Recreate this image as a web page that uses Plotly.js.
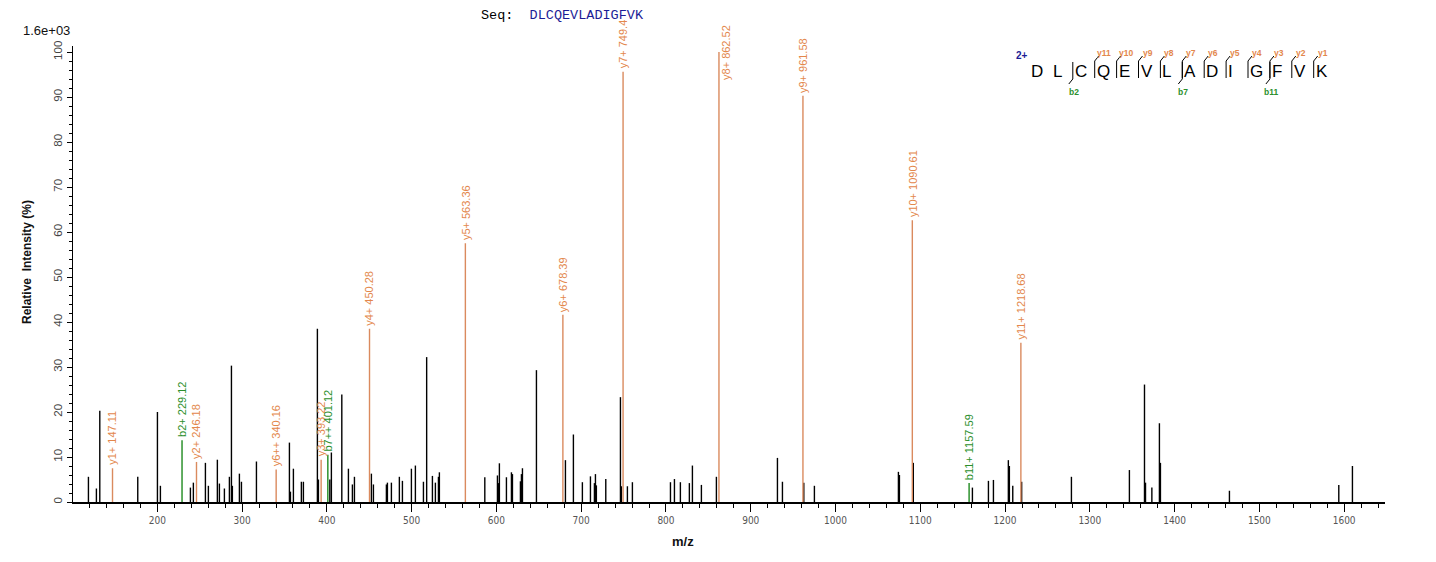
<!DOCTYPE html>
<html><head><meta charset="utf-8">
<script src="https://cdn.plot.ly/plotly-3.0.1.min.js"></script>
<style>html,body{margin:0;padding:0;background:#fff}</style>
</head><body><div id="chart" style="width:1436px;height:562px"></div>
<script>
// ---------------- data ----------------
const sequence = "DLCQEVLADIGFVK";
const precursorCharge = "2+";
const maxIntensityLabel = "1.6e+03";

const otherMz = [118.7,128.1,132.1,176.9,200.1,203.6,239.0,242.5,256.7,260.2,270.8,273.2,279.1,285.0,287.4,288.5,296.8,299.2,316.9,355.8,357.0,360.5,369.9,372.3,388.8,390.0,403.5,405.3,417.6,425.4,430.1,432.5,452.5,454.9,470.2,471.4,476.1,485.5,489.1,499.7,504.4,513.9,517.7,524.5,528.0,531.6,532.7,586.3,601.2,602.3,603.5,611.8,617.7,618.9,628.3,629.5,630.7,647.2,681.4,690.8,701.4,710.9,715.6,716.8,717.9,729.0,746.3,747.4,754.5,760.4,805.3,810.0,817.0,827.6,831.2,841.8,859.5,931.5,937.4,962.6,975.1,1074.2,1075.4,1091.8,1161.5,1180.4,1186.3,1203.9,1205.1,1209.1,1219.6,1278.3,1346.7,1364.5,1365.7,1373.2,1382.1,1383.3,1464.7,1593.7,1609.8];
const otherInt = [5.6,3.0,20.3,5.6,20.0,3.6,3.2,4.3,8.7,3.6,9.4,4.1,3.0,5.6,30.3,3.6,6.3,4.5,9.0,13.2,2.3,7.4,4.5,4.5,38.5,5.0,5.0,11.0,23.9,7.4,3.9,5.6,6.3,3.9,3.9,4.3,4.3,5.6,4.7,7.4,8.1,4.5,32.2,5.8,4.3,5.6,6.6,5.5,5.9,4.2,8.6,5.5,6.6,6.2,4.6,6.2,7.5,29.3,9.3,15.0,4.4,5.7,4.2,6.2,3.7,5.1,23.3,3.5,3.5,4.4,4.4,5.1,4.4,4.2,8.1,3.8,5.6,9.8,4.5,4.3,3.6,6.7,6.0,8.7,3.2,4.7,4.9,9.3,8.0,3.6,4.5,5.6,7.1,26.1,4.3,3.2,17.5,8.7,2.5,3.8,8.0];

const yIonMz = [147.11,246.18,340.16,393.22,450.28,563.36,678.39,749.4,862.52,961.58,1090.61,1218.68];
const yIonInt = [7.5,8.9,7.2,9.4,38.5,57.5,41.6,95.6,100,90.3,62.6,35.4];
const yIonLabels = ["y1+ 147.11","y2+ 246.18","y6++ 340.16","y3+ 393.22","y4+ 450.28","y5+ 563.36","y6+ 678.39","y7+ 749.4","y8+ 862.52","y9+ 961.58","y10+ 1090.61","y11+ 1218.68"];

const bIonMz = [229.12,401.12,1157.59];
const bIonInt = [13.7,10.5,4.2];
const bIonLabels = ["b2+ 229.12","b7++ 401.12","b11+ 1157.59"];

const yIonsMatched = [1,2,3,4,5,6,7,8,9,10,11];
const bIonsMatched = [2,7,11];

const xTickVals = [200,300,400,500,600,700,800,900,1000,1100,1200,1300,1400,1500,1600];

// ---------------- styles ----------------
const W = 1436, H = 562;
const M = {l:73, r:51, t:46, b:60};
const ORANGE_LINE = "#DA8A5E", ORANGE_TEXT = "#E3874C";
const GREEN_LINE = "#1F8A1F", GREEN_TEXT = "#2C8F2C";
const NAVY = "#1C1C96";

function px2x(px){ return (px - M.l) / (W - M.l - M.r); }
function py2y(py){ return (H - M.b - py) / (H - M.t - M.b); }

function sticks(mz, it){
  const x = [], y = [];
  mz.forEach((m, i) => { x.push(m, m, null); y.push(0, it[i], null); });
  return {x, y};
}

const sb = sticks(otherMz, otherInt);
const sy = sticks(yIonMz, yIonInt);
const sbi = sticks(bIonMz, bIonInt);

const traces = [
  {type:"scatter", mode:"lines", x:sb.x, y:sb.y, line:{color:"#000", width:1.4}, hoverinfo:"skip", connectgaps:false},
  {type:"scatter", mode:"lines", x:sy.x, y:sy.y, line:{color:ORANGE_LINE, width:1.4}, hoverinfo:"skip", connectgaps:false},
  {type:"scatter", mode:"lines", x:sbi.x, y:sbi.y, line:{color:GREEN_LINE, width:1.4}, hoverinfo:"skip", connectgaps:false}
];

const annotations = [];
function ionLabel(mz, it, txt, color){
  const high = it > 97;
  annotations.push({
    x: mz, y: it, xref:"x", yref:"y", text: txt, textangle:-90, showarrow:false,
    xanchor:"center", yanchor: high ? "middle" : "bottom", xshift: high ? 7 : 0, yshift: high ? 0 : 1,
    font:{family:"Arial, Liberation Sans, sans-serif", size:11, color}
  });
}
yIonMz.forEach((m,i)=>ionLabel(m, yIonInt[i], yIonLabels[i], ORANGE_TEXT));
bIonMz.forEach((m,i)=>ionLabel(m, bIonInt[i], bIonLabels[i], GREEN_TEXT));

// max intensity label
annotations.push({xref:"paper", yref:"paper", x:px2x(21), y:py2y(31), xanchor:"left", yanchor:"middle",
  text:maxIntensityLabel, showarrow:false, font:{family:"Arial, Liberation Sans, sans-serif", size:13, color:"#111"}});

// axis titles
annotations.push({xref:"paper", yref:"paper", x:px2x(27), y:py2y(262), xanchor:"center", yanchor:"middle",
  text:"<b>Relative  Intensity (%)</b>", textangle:-90, showarrow:false,
  font:{family:"Arial, Liberation Sans, sans-serif", size:12, color:"#111"}});
annotations.push({xref:"paper", yref:"paper", x:px2x(683), y:py2y(541), xanchor:"center", yanchor:"middle",
  text:"<b>m/z</b>", showarrow:false, font:{family:"Arial, Liberation Sans, sans-serif", size:13, color:"#111"}});

// fragment diagram
const shapes = [];
const fragLeft0 = 1031, fragStep = 21.9, fragPy = 72;
const letterLeft = i => fragLeft0 + i * fragStep;
sequence.split("").forEach((ch, i) => {
  annotations.push({xref:"paper", yref:"paper", x:px2x(letterLeft(i) - 2), y:py2y(fragPy), xanchor:"left", yanchor:"middle",
    text:ch, showarrow:false, font:{family:"Arial, Liberation Sans, sans-serif", size:17, color:"#000"}});
});
annotations.push({xref:"paper", yref:"paper", x:px2x(1022), y:py2y(55), xanchor:"center", yanchor:"middle",
  text:"<b>" + precursorCharge + "</b>", showarrow:false, font:{family:"Arial, Liberation Sans, sans-serif", size:10, color:NAVY}});

function seg(x0, y0, x1, y1, color){
  shapes.push({type:"line", xref:"paper", yref:"paper", x0:px2x(x0), y0:py2y(y0), x1:px2x(x1), y1:py2y(y1),
    line:{color, width:1}});
}
yIonsMatched.forEach(n => {
  const bx = letterLeft(sequence.length - n) - 2;
  seg(bx, 61, bx, 78, "#000");
  seg(bx, 61, bx + 4, 56, "#000");
  annotations.push({xref:"paper", yref:"paper", x:px2x(bx + 9), y:py2y(53), xanchor:"center", yanchor:"middle",
    text:"<b>y" + n + "</b>", showarrow:false, font:{family:"Arial, Liberation Sans, sans-serif", size:8.5, color:ORANGE_TEXT}});
});
bIonsMatched.forEach(n => {
  const bx = letterLeft(n) - 2;
  seg(bx, 62, bx, 79, "#000");
  seg(bx, 79, bx - 4, 84, "#000");
  annotations.push({xref:"paper", yref:"paper", x:px2x(bx + 1), y:py2y(92), xanchor:"center", yanchor:"middle",
    text:"<b>b" + n + "</b>", showarrow:false, font:{family:"Arial, Liberation Sans, sans-serif", size:8.5, color:GREEN_TEXT}});
});

const layout = {
  width:W, height:H, margin:M, paper_bgcolor:"#fff", plot_bgcolor:"#fff", showlegend:false,
  title:{text:"Seq:&nbsp;&nbsp;<span style='color:" + NAVY + "'>" + sequence + "</span>",
    x:481/W, xanchor:"left", xref:"container", y:1 - 14/H, yref:"container", yanchor:"middle",
    font:{family:"Liberation Mono, Courier New, monospace", size:13.5, color:"#000"}},
  xaxis:{range:[100.5, 100.5 + (W - M.l - M.r)/0.8477], tickmode:"array", tickvals:xTickVals,
    ticks:"outside", ticklen:8, tickwidth:1, tickcolor:"#000",
    minor:{dtick:20, tick0:0, ticks:"outside", ticklen:4, tickwidth:1, tickcolor:"#000", showgrid:false},
    showline:true, linecolor:"#000", linewidth:1.5, showgrid:false, zeroline:false,
    tickfont:{family:"Liberation Sans Narrow, DejaVu Sans Condensed, Arial, sans-serif", size:10, color:"#555"}},
  yaxis:{range:[0, (H - M.t - M.b)/4.5], tickmode:"linear", tick0:0, dtick:10, tickangle:-90,
    ticks:"outside", ticklen:5, tickwidth:1, tickcolor:"#000",
    minor:{dtick:2, tick0:0, ticks:"outside", ticklen:3, tickwidth:1, tickcolor:"#000", showgrid:false},
    showline:true, linecolor:"#000", linewidth:1, showgrid:false, zeroline:false,
    tickfont:{family:"Arial, Liberation Sans, sans-serif", size:11.5, color:"#444"}},
  annotations, shapes
};

Plotly.newPlot("chart", traces, layout, {staticPlot:true, displayModeBar:false});
</script></body></html>
